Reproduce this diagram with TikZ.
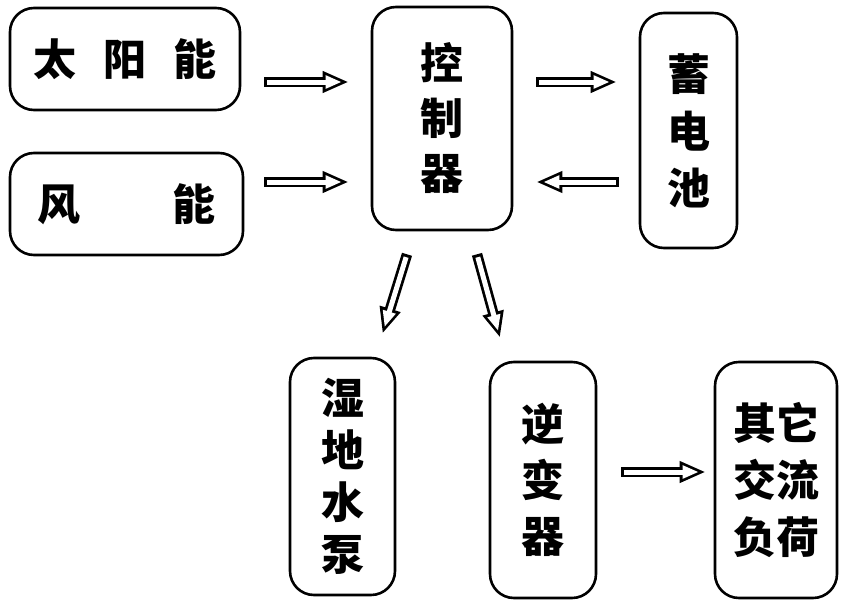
\documentclass[tikz,border=0pt]{standalone}
\usepackage{fontspec}
\newfontfamily\cjk{Noto Sans CJK SC}
\usetikzlibrary{arrows.meta}
\tikzset{
  box/.style={draw, line width=2.6pt, rounded corners=24pt, align=center,
    inner sep=0pt, font=\cjk\bfseries\fontsize{43}{55}\selectfont},
  flow/.style={line width=10.5pt, -{Triangle[length=26pt, width=20pt]},
    postaction={draw, white, line width=5pt, shorten <=3pt, shorten >=7pt,
      -{Triangle[length=16pt, width=12.3pt]}}}
}
\begin{document}
\begin{tikzpicture}[x=1pt,y=-1pt]
    \useasboundingbox (0,0) rectangle (848,610);
    \node[box, minimum width=230pt, minimum height=102pt] (sun) at (125,59) {太\hspace{27pt}阳\hspace{27pt}能};
    \node[box, minimum width=233pt, minimum height=102pt] (wind) at (126.5,204) {风\hspace{93pt}能};
    \node[box, minimum width=140pt, minimum height=223pt] (ctrl) at (442,118.5) {控\\制\\器};
    \node[box, minimum width=97pt, minimum height=235pt,
      font=\cjk\bfseries\fontsize{43}{57}\selectfont] (batt) at (688.5,130.5) {蓄\\电\\池};
    \node[box, minimum width=105pt, minimum height=237pt,
      font=\cjk\bfseries\fontsize{43}{52}\selectfont] (pump) at (342.5,476.5) {湿\\地\\水\\泵};
    \node[box, minimum width=106pt, minimum height=236pt,
      font=\cjk\bfseries\fontsize{43}{56}\selectfont] (inv) at (543,480) {逆\\变\\器};
    \node[box, minimum width=122pt, minimum height=236pt,
      font=\cjk\bfseries\fontsize{43}{57}\selectfont] (load) at (776,480) {其它\\交流\\负荷};
    % energy flow
    \draw[flow] ([shift={(23,23)}]sun.east) -- ([shift={(-22,-36.5)}]ctrl.west);
    \draw[flow] ([shift={(20,-22)}]wind.east) -- ([shift={(-22,63.5)}]ctrl.west);
    \draw[flow] ([shift={(23,-36.5)}]ctrl.east) -- ([shift={(-22,-48.5)}]batt.west);
    \draw[flow] ([shift={(-20,51.5)}]batt.west) -- ([shift={(23,63.5)}]ctrl.east);
    \draw[flow] ([shift={(-35,23)}]ctrl.south) -- ([shift={(40,-23)}]pump.north);
    \draw[flow] ([shift={(35,23)}]ctrl.south) -- ([shift={(-43,-23)}]inv.north);
    \draw[flow] ([shift={(24,-8)}]inv.east) -- ([shift={(-8,-8)}]load.west);
  \end{tikzpicture}
\end{document}
